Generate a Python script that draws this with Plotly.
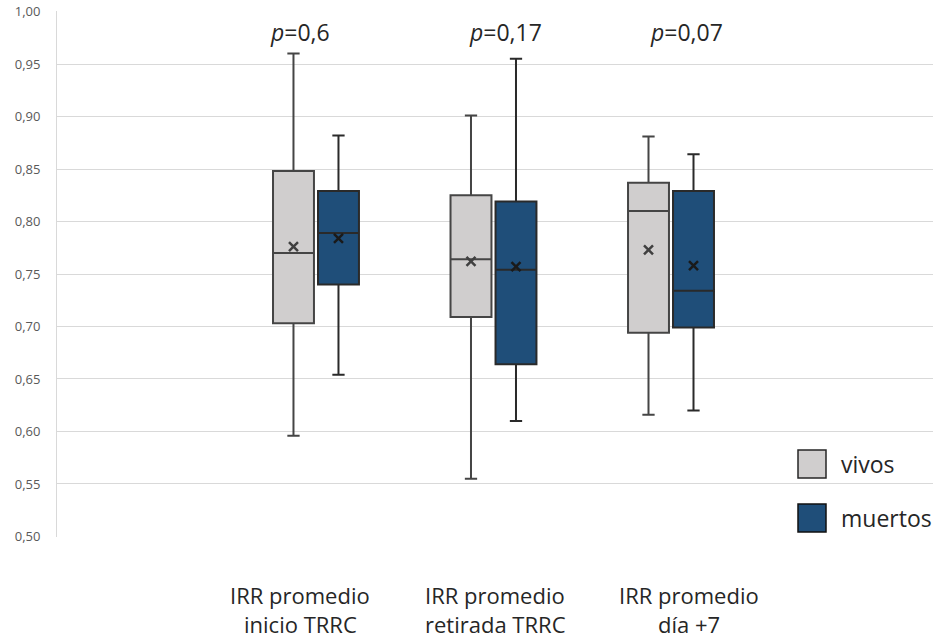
import plotly.graph_objects as go

categories = ["IRR promedio inicio TRRC", "IRR promedio retirada TRRC", "IRR promedio día +7"]
label_line1 = ["IRR promedio", "IRR promedio", "IRR promedio"]
label_line2 = ["inicio TRRC", "retirada TRRC", "día +7"]

vivos_lower = [0.596, 0.555, 0.616]
vivos_q1 = [0.703, 0.709, 0.694]
vivos_median = [0.770, 0.764, 0.810]
vivos_q3 = [0.848, 0.825, 0.837]
vivos_upper = [0.960, 0.901, 0.881]
vivos_mean = [0.776, 0.762, 0.773]

muertos_lower = [0.654, 0.610, 0.620]
muertos_q1 = [0.740, 0.664, 0.699]
muertos_median = [0.789, 0.754, 0.734]
muertos_q3 = [0.829, 0.819, 0.829]
muertos_upper = [0.882, 0.955, 0.864]
muertos_mean = [0.784, 0.757, 0.758]

p_values = ["0,6", "0,17", "0,07"]
series_names = ["vivos", "muertos"]

FONT = "Open Sans"
fig = go.Figure()

fig.add_trace(go.Box(
    x=categories, q1=vivos_q1, median=vivos_median, q3=vivos_q3,
    lowerfence=vivos_lower, upperfence=vivos_upper,
    name=series_names[0], offsetgroup="vivos", boxpoints=False,
    fillcolor="#D0CECE", line=dict(color="#454545", width=2),
    whiskerwidth=0.3, showlegend=False, hoverinfo="skip"))
fig.add_trace(go.Box(
    x=categories, q1=muertos_q1, median=muertos_median, q3=muertos_q3,
    lowerfence=muertos_lower, upperfence=muertos_upper,
    name=series_names[1], offsetgroup="muertos", boxpoints=False,
    fillcolor="#1F4E79", line=dict(color="#2a2a2a", width=2),
    whiskerwidth=0.3, showlegend=False, hoverinfo="skip"))

fig.add_trace(go.Scatter(
    x=categories, y=vivos_mean, mode="markers", offsetgroup="vivos",
    marker=dict(symbol="x-thin", size=9, line=dict(width=2.5, color="#404040")),
    showlegend=False, hoverinfo="skip"))
fig.add_trace(go.Scatter(
    x=categories, y=muertos_mean, mode="markers", offsetgroup="muertos",
    marker=dict(symbol="x-thin", size=9, line=dict(width=2.5, color="#1a1a1a")),
    showlegend=False, hoverinfo="skip"))

L, T, W, H = 57, 11, 876, 526

def py(p):
    return (T + H - p) / H

# x labels (manual placement to match reference)
label_px = [300, 495, 689]
for l1, l2, px in zip(label_line1, label_line2, label_px):
    for txt, yc in ((l1, 595), (l2, 624)):
        fig.add_annotation(xref="paper", yref="paper", x=(px - L) / W, y=py(yc),
                           text=txt, showarrow=False, xanchor="center", yanchor="middle",
                           borderpad=0, font=dict(family=FONT, size=22, color="#262626"))

p_px = [300, 505, 686]
for pv, px in zip(p_values, p_px):
    fig.add_annotation(xref="paper", yref="paper", x=(px - L) / W, y=py(32),
                       text="<i>p</i>=" + pv, showarrow=False, xanchor="center", yanchor="middle",
                       font=dict(family=FONT, size=23, color="#262626"))

# legend (manual)
leg = [("vivos", "#D0CECE", "#262626", 450), ("muertos", "#1F4E79", "#111111", 504)]
for name, fc, lc, ytop in leg:
    fig.add_shape(type="rect", xref="paper", yref="paper",
                  x0=(798 - L) / W, x1=(826 - L) / W,
                  y0=py(ytop), y1=py(ytop + 28),
                  fillcolor=fc, line=dict(color=lc, width=1.5))
    fig.add_annotation(xref="paper", yref="paper", x=(839 - L) / W, y=py(ytop + 14),
                       text=name, showarrow=False, xanchor="left", yanchor="middle",
                       font=dict(family=FONT, size=23, color="#262626"))

fig.update_layout(
    width=933, height=639,
    margin=dict(l=L, r=0, t=T, b=639 - T - H, pad=0),
    paper_bgcolor="white", plot_bgcolor="white",
    boxmode="group", boxgap=0.493, boxgroupgap=0.09,
    scattermode="group", scattergap=0.493,
    separators=",.",
    showlegend=False,
    xaxis=dict(type="category", range=[-1.459, 3.476], showticklabels=False,
               showgrid=False, zeroline=False, showline=False, ticks=""),
    yaxis=dict(range=[0.4995, 1.0005], tickvals=[0.5, 0.55, 0.6, 0.65, 0.7, 0.75, 0.8, 0.85, 0.9, 0.95, 1.0],
               tickformat=".2f", showgrid=True, gridcolor="#d9d9d9", gridwidth=1,
               zeroline=False, showline=True, linecolor="#d9d9d9", linewidth=1,
               ticks="", ticklabelstandoff=13,
               tickfont=dict(family=FONT, size=13, color="#595959")),
)

fig.write_html("out.html")
